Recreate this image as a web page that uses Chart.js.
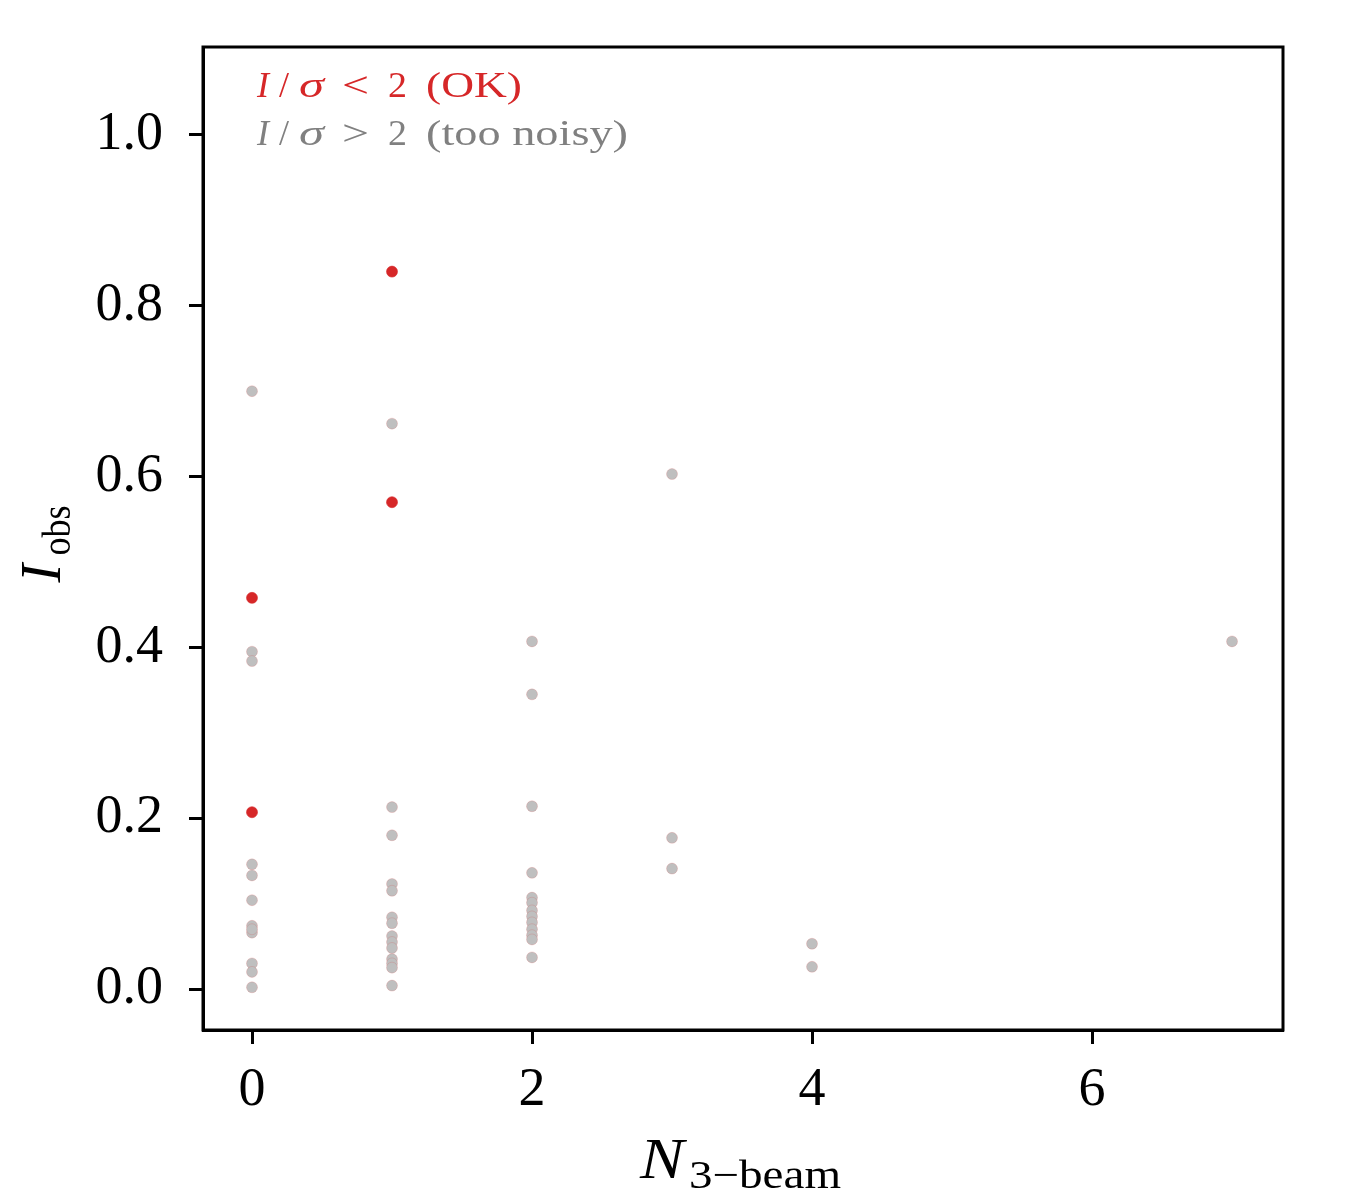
<!DOCTYPE html>
<html>
<head>
<meta charset="utf-8">
<script src="https://cdn.jsdelivr.net/npm/chart.js@4.4.0/dist/chart.umd.min.js"></script>
<style>
    html, body { margin: 0; padding: 0; background: #fff; }
    #wrap { width: 1350px; height: 1200px; }
</style>
</head>
<body>
<div id="wrap"><canvas id="scatterChart" width="1350" height="1200"></canvas></div>
<script>
// Data
const noisyX = [0, 0, 0, 0, 0, 0, 0, 0, 0, 0, 0, 0,
                1, 1, 1, 1, 1, 1, 1, 1, 1, 1, 1, 1, 1, 1,
                2, 2, 2, 2, 2, 2, 2, 2, 2, 2, 2, 2, 2,
                3, 3, 3, 4, 4, 7];
const noisyY = [0.700, 0.395, 0.384, 0.146, 0.133, 0.104, 0.074, 0.066, 0.030, 0.020, 0.002, 0.070,
                0.662, 0.213, 0.180, 0.123, 0.115, 0.084, 0.077, 0.062, 0.055, 0.048, 0.035, 0.030, 0.025, 0.004,
                0.407, 0.345, 0.214, 0.136, 0.107, 0.101, 0.092, 0.085, 0.078, 0.070, 0.063, 0.058, 0.037,
                0.603, 0.177, 0.141, 0.053, 0.026, 0.407];
const okX = [0, 0, 1, 1];
const okY = [0.458, 0.207, 0.840, 0.570];

const xTicks = [0, 2, 4, 6];
const yTicks = [0.0, 0.2, 0.4, 0.6, 0.8, 1.0];

const SERIF = '"Liberation Serif", "Times New Roman", Tinos, "DejaVu Serif", serif';
const RED = '#d62728';
const GREY = '#808080';
const DOT_GREY = '#bfbfbf';

function toPoints(xs, ys) {
    return xs.map((x, i) => ({ x: x, y: ys[i] }));
}

// draws str stretched sideways so it spans about targetW pixels (TeX fonts run wide)
function wideText(ctx, str, x, y, targetW) {
    const w = ctx.measureText(str).width;
    ctx.save();
    ctx.translate(x, y);
    ctx.scale(targetW / w, 1);
    ctx.fillText(str, 0, 0);
    ctx.restore();
}

function drawMath(ctx, y, color, op, tail, tailW) {
    ctx.fillStyle = color;
    ctx.font = 'italic 36px ' + SERIF;
    ctx.fillText('I', 257, y);
    ctx.font = '36px ' + SERIF;
    ctx.fillText('/', 279, y);
    ctx.font = 'italic 36px ' + SERIF;
    wideText(ctx, '\u03c3', 299, y, 25);
    ctx.font = '36px ' + SERIF;
    wideText(ctx, op, 342, y, 27);
    wideText(ctx, '2', 388, y, 19);
    wideText(ctx, tail, 426, y, tailW);
}

// Frame, legend text and math-style axis labels
const decorations = {
    id: 'decorations',
    afterDraw(chart) {
        const ctx = chart.ctx;
        const area = chart.chartArea;
        ctx.save();
        ctx.strokeStyle = '#000';
        ctx.lineWidth = 3;
        ctx.strokeRect(area.left, area.top, area.right - area.left, area.bottom - area.top);

        ctx.textBaseline = 'alphabetic';
        ctx.textAlign = 'left';
        drawMath(ctx, 97, RED, '<', '(OK)', 96);
        drawMath(ctx, 145, GREY, '>', '(too noisy)', 202);

        // x axis label
        ctx.fillStyle = '#000';
        ctx.font = 'italic 56px ' + SERIF;
        wideText(ctx, 'N', 640, 1178, 44);
        ctx.font = '40px ' + SERIF;
        wideText(ctx, '3\u2212beam', 689, 1188, 152);

        // y axis label
        const cy = (area.top + area.bottom) / 2;
        ctx.translate(60, cy);
        ctx.rotate(-Math.PI / 2);
        ctx.font = 'italic 56px ' + SERIF;
        ctx.fillText('I', -44, 0);
        ctx.font = '40px ' + SERIF;
        wideText(ctx, 'obs', -17, 10, 50);
        ctx.restore();
    }
};

new Chart(document.getElementById('scatterChart'), {
    type: 'scatter',
    data: {
        datasets: [
            {
                label: 'I/sigma > 2 (too noisy)',
                data: toPoints(noisyX, noisyY),
                backgroundColor: DOT_GREY,
                borderColor: 'rgba(214, 39, 40, 0.25)',
                borderWidth: 0.6,
                pointRadius: 5.5
            },
            {
                label: 'I/sigma < 2 (OK)',
                data: toPoints(okX, okY),
                backgroundColor: RED,
                borderColor: RED,
                borderWidth: 0.6,
                pointRadius: 5.5
            }
        ]
    },
    options: {
        responsive: false,
        animation: false,
        devicePixelRatio: 1,
        layout: { padding: { top: 47, right: 67, left: 0, bottom: 0 } },
        plugins: {
            legend: { display: false },
            tooltip: { enabled: false }
        },
        scales: {
            x: {
                type: 'linear',
                min: -0.35,
                max: 7.364,
                afterBuildTicks: (scale) => { scale.ticks = xTicks.map(v => ({ value: v })); },
                afterFit: (scale) => {
                    scale.height = 170;
                    scale.paddingLeft = 0;
                    scale.paddingRight = 0;
                },
                grid: {
                    drawOnChartArea: false,
                    drawTicks: true,
                    tickLength: 14,
                    tickWidth: 3,
                    tickColor: '#000'
                },
                border: { display: true, color: '#000', width: 3 },
                ticks: {
                    color: '#000',
                    padding: 14,
                    font: { family: SERIF, size: 54 },
                    callback: (v) => String(v)
                }
            },
            y: {
                type: 'linear',
                min: -0.048,
                max: 1.103,
                afterBuildTicks: (scale) => { scale.ticks = yTicks.map(v => ({ value: v })); },
                afterFit: (scale) => {
                    scale.width = 203;
                    scale.paddingTop = 0;
                    scale.paddingBottom = 0;
                },
                grid: {
                    drawOnChartArea: false,
                    drawTicks: true,
                    tickLength: 14,
                    tickWidth: 3,
                    tickColor: '#000'
                },
                border: { display: true, color: '#000', width: 3 },
                ticks: {
                    color: '#000',
                    padding: 26,
                    font: { family: SERIF, size: 54 },
                    callback: (v) => v.toFixed(1)
                }
            }
        }
    },
    plugins: [decorations]
});
</script>
</body>
</html>
